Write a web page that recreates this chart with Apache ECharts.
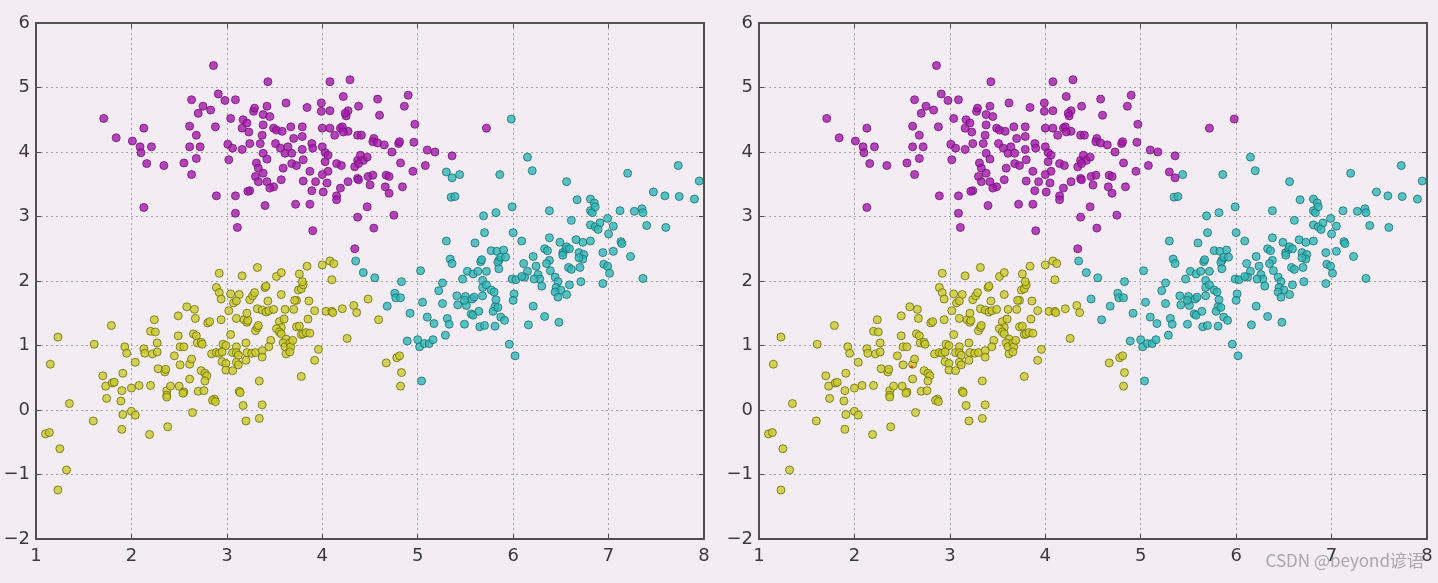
<!DOCTYPE html>
<html><head><meta charset="utf-8">
<script src="https://cdn.jsdelivr.net/npm/echarts@6/dist/echarts.min.js"></script>
<style>html,body{margin:0;padding:0;background:#f3ecf3;}#c{width:1438px;height:583px;}</style>
</head><body><div id="c"></div>
<script>
// ---- data ----
const xRange = [1, 8];
const yRange = [-2, 6];
const watermark = 'CSDN @beyond谚语';

// points that share the same colour in both panels
const magentaPts = [
[2.86,5.34],[1.71,4.52],[1.84,4.22],[2.01,4.17],[2.13,4.37],[2.09,4.08],[2.10,3.99],[2.21,4.08],[2.16,3.82],[2.34,3.79],
[2.55,3.83],[2.63,3.65],[2.68,3.90],[2.61,4.08],[2.72,4.08],[2.68,4.26],[2.61,4.40],[2.70,4.60],[2.75,4.71],[2.63,4.81],
[2.83,4.65],[2.88,4.39],[2.91,4.90],[2.98,4.80],[3.09,4.81],[3.01,4.12],[3.02,3.88],[2.89,3.32],[3.09,3.32],[3.06,4.06],
[3.16,4.04],[3.04,4.52],[3.17,4.50],[3.21,4.45],[3.16,4.37],[3.23,4.31],[3.24,4.13],[3.28,4.63],[3.29,4.68],[3.38,4.58],
[3.42,4.71],[3.43,5.09],[3.45,4.55],[3.38,4.42],[3.37,4.26],[3.35,4.13],[3.38,3.98],[3.42,3.89],[3.31,3.83],[3.33,3.75],
[3.38,3.67],[3.30,3.62],[3.33,3.54],[3.42,3.54],[3.49,3.46],[3.45,3.44],[3.24,3.40],[3.22,3.39],[3.49,4.37],[3.52,4.34],
[3.58,4.32],[3.62,4.76],[3.67,4.39],[3.70,4.21],[3.51,4.13],[3.56,4.06],[3.61,3.98],[3.64,4.08],[3.68,3.98],[3.68,3.82],
[3.59,3.75],[3.57,3.57],[3.73,3.79],[3.79,4.39],[3.79,4.24],[3.84,4.69],[3.89,4.13],[3.90,4.06],[3.79,4.04],[3.80,3.88],
[3.87,3.70],[3.80,3.55],[3.93,3.54],[3.89,3.40],[3.99,4.76],[3.99,4.63],[4.08,4.64],[4.08,5.09],[4.29,5.12],[4.22,4.86],
[4.27,4.64],[4.25,4.56],[4.38,4.71],[4.00,4.37],[4.08,4.37],[4.13,4.26],[4.19,4.37],[4.27,4.32],[4.00,4.08],[4.03,3.99],
[4.03,3.85],[4.06,3.95],[4.15,3.82],[4.06,3.70],[4.00,3.65],[4.05,3.52],[4.01,3.38],[4.15,3.32],[4.19,3.44],[4.27,3.54],
[4.34,3.77],[4.37,3.87],[4.37,3.59],[4.37,4.26],
[4.58,4.82],[4.90,4.88],[4.86,4.71],[4.60,4.57],[4.97,4.43],[4.24,4.60],[4.21,4.39],[4.22,4.31],[4.41,4.26],[4.54,4.21],
[4.53,4.16],[4.58,4.14],[4.65,4.11],[4.80,4.13],[4.81,4.16],[4.96,4.15],[4.73,4.00],[5.10,4.03],[5.18,4.00],[5.36,3.94],
[5.72,4.37],[4.40,3.95],[4.43,3.87],[4.38,3.82],[4.47,3.92],[4.20,3.79],[4.82,3.83],[5.08,3.79],[4.95,3.70],[4.38,3.57],
[4.48,3.62],[4.53,3.64],[4.67,3.64],[4.70,3.62],[4.50,3.49],[4.66,3.46],[4.84,3.46],[4.70,3.36],
[2.13,3.14],[3.09,3.05],[3.11,2.83],[3.40,3.17],[3.72,3.19],[3.87,3.19],[3.90,2.78],[4.15,3.26],[4.37,2.99],[4.34,2.50],
[4.47,3.15],[4.75,3.02],[4.54,2.82]
];

const cyanPts = [
[6.15,3.92],[6.20,3.71],[5.86,3.65],[5.44,3.65],[6.56,3.54],[7.20,3.67],[7.73,3.79],[7.95,3.55],[7.47,3.38],[7.59,3.32],
[7.74,3.31],[7.90,3.27],[5.35,3.30],[5.39,3.31],[6.67,3.26],[6.81,3.27],
[4.35,2.31],[4.43,2.13],[4.55,2.05],[4.83,1.99],[4.76,1.81],[4.77,1.74],[4.82,1.74],[4.68,1.61],[4.92,1.50],[5.03,2.16],
[5.05,1.67],[5.10,1.44],[5.17,1.34],[4.89,1.07],[5.00,1.09],[5.02,0.98],[5.07,1.03],[5.12,1.03],[5.16,1.09],[5.04,0.45],
[5.22,1.85],[5.26,1.97],[5.26,1.65],[5.31,1.42],[5.33,1.33],[5.29,1.16],[5.30,2.62],[5.34,2.34],[5.36,2.27],[5.52,2.15],
[5.47,2.03],[5.41,1.77],[5.50,1.76],[5.42,1.63],[5.51,1.62],[5.49,1.70],[5.49,1.33],[5.60,2.59],[5.69,3.01],[5.70,2.75],
[5.82,3.06],[5.58,2.11],[5.63,2.15],[5.68,2.01],[5.72,2.15],[5.66,2.30],[5.67,2.33],[5.57,1.72],[5.59,1.75],[5.68,1.77],
[5.68,1.90],[5.72,1.94],[5.56,1.49],[5.58,1.47],[5.64,1.53],[5.65,1.29],[5.70,1.31],[5.77,2.47],[5.83,2.46],[5.85,2.32],
[5.84,2.29],[5.87,2.37],[5.90,2.48],[5.92,2.37],[5.77,1.86],[5.80,1.83],[5.82,1.71],[5.81,1.60],[5.79,1.53],[5.84,1.59],
[5.81,1.30],[5.87,1.44],[5.91,1.39],[5.85,2.19],[5.99,3.15],[6.00,2.75],[5.99,2.03],[6.03,2.02],[6.01,1.80],[6.00,1.70],
[5.96,1.02],[6.02,0.84],[6.09,2.62],[6.11,2.27],[6.15,2.15],[6.12,2.06],[6.09,2.07],[6.21,1.61],[6.16,1.32],[6.21,2.38],
[6.24,2.23],[6.26,2.10],[6.28,2.03],[6.30,1.92],[6.22,2.03],[6.33,2.50],[6.36,2.47],[6.38,2.32],[6.35,2.27],[6.39,2.16],
[6.33,1.45],[6.38,2.67],[6.38,3.09],[6.44,2.06],[6.47,1.99],[6.45,1.90],[6.50,1.86],[6.44,1.83],[6.56,1.79],[6.47,1.75],
[6.48,1.36],[6.49,2.60],[6.52,2.44],[6.55,2.49],[6.56,2.53],[6.59,2.50],[6.52,2.40],[6.58,2.21],[6.61,2.18],[6.59,1.94],
[6.66,2.64],[6.73,2.60],[6.81,2.62],[6.69,2.44],[6.74,2.41],[6.73,2.34],[6.69,2.36],[6.70,2.21],[6.71,1.99],[6.61,2.94],
[6.85,3.21],[6.81,3.09],[6.83,3.06],[6.86,3.15],[6.81,2.87],[6.86,2.84],[6.91,2.90],[6.89,2.80],[6.99,2.97],[7.05,2.85],
[7.00,2.73],[6.94,2.44],[6.95,2.26],[6.99,2.23],[7.01,2.12],[6.94,1.96],[7.05,2.46],[7.13,2.61],[7.14,2.58],[7.23,2.38],
[7.12,3.09],[7.27,3.08],[7.35,3.12],[7.36,3.06],[7.40,2.86],[7.60,2.83],[7.36,2.04]
];

const yellowPts = [
[1.23,1.13],[1.15,0.71],[1.79,1.31],[1.61,1.02],[1.93,0.98],[1.95,0.88],[2.04,0.74],[1.70,0.53],[1.73,0.37],[1.80,0.42],
[1.82,0.43],[1.91,0.57],[1.90,0.30],[2.00,0.34],[2.08,0.38],[2.20,0.38],[2.13,0.95],[2.14,0.88],[2.22,0.87],[2.24,1.40],
[2.20,1.22],[2.25,1.21],[2.27,1.04],[2.27,0.90],[2.28,0.64],[2.35,0.59],[2.36,0.63],[2.37,0.30],[2.37,0.23],[2.41,0.37],
[2.45,0.84],[2.49,1.15],[2.49,1.46],[2.51,0.98],[2.55,0.98],[2.51,0.70],[2.50,0.37],[2.55,0.28],[2.58,1.60],[2.66,1.56],
[2.67,1.42],[2.65,1.18],[2.68,1.15],[2.61,0.71],[2.63,0.79],[2.61,0.48],[2.70,0.29],[2.76,0.30],[2.69,1.04],[2.73,1.05],
[2.74,1.02],[2.73,0.61],[2.77,0.57],[2.79,0.53],[2.77,0.45],[2.80,1.35],[2.82,1.37],[2.84,0.87],[2.87,0.17],[2.89,1.90],
[2.92,2.12],[2.92,1.82],[2.94,1.72],[2.94,1.40],[2.89,0.89],[2.92,0.88],[2.95,0.90],[2.96,1.02],[2.99,1.00],[2.95,0.75],
[2.99,0.72],[2.99,0.62],[3.02,1.54],[3.04,1.17],[3.04,1.80],[3.07,1.66],[3.13,1.79],[3.10,1.69],[3.06,0.89],[3.10,0.98],
[3.10,0.89],[3.12,0.85],[3.10,0.74],[3.12,0.70],[3.06,0.61],[3.10,1.42],[3.18,1.40],[3.16,2.08],[3.13,0.29],[3.20,1.04],
[3.21,0.89],[3.21,1.36],[3.22,1.39],[3.20,0.77],[3.24,1.71],[3.27,1.77],[3.29,1.82],[3.21,1.50],[3.30,1.23],[3.32,1.28],
[3.33,1.31],[3.26,0.88],[3.30,0.89],[3.37,0.92],[3.37,0.82],[3.34,0.45],[3.32,2.21],[3.40,1.90],[3.41,1.92],[3.32,1.57],
[3.37,1.55],[3.41,1.52],[3.44,1.54],[3.43,1.69],[3.46,1.08],[3.44,0.98],[3.49,1.56],[3.52,2.07],[3.57,2.13],[3.57,1.79],
[3.55,1.37],[3.57,1.28],[3.60,1.41],[3.52,1.26],[3.55,1.21],[3.57,1.18],[3.62,1.10],[3.59,1.04],[3.61,0.98],[3.62,0.87],
[3.66,1.04],[3.67,0.98],[3.66,0.90],[3.69,1.08],[3.61,1.56],[3.70,1.56],[3.73,1.70],[3.71,1.70],[3.75,1.86],[3.78,1.88],
[3.80,1.94],[3.79,1.99],[3.76,2.11],[3.86,1.69],[3.84,2.23],[3.73,1.29],[3.76,1.30],[3.78,1.17],[3.80,1.18],[3.83,1.20],
[3.87,1.19],[3.85,1.41],[3.92,1.54],[3.96,0.94],[3.92,0.77],[3.78,0.52],[4.00,2.25],[4.04,1.53],[4.08,2.31],[4.12,2.27],
[4.10,2.02],[4.10,1.53],[4.11,1.51],[4.21,1.57],[4.26,1.11],[4.33,1.62],[4.36,1.51],
[4.67,0.73],[4.78,0.81],[4.81,0.84],[4.83,0.58],[4.82,0.37],
[1.74,0.18],[1.89,0.14],[1.91,-0.07],[1.90,-0.30],[2.00,-0.02],[2.04,-0.08],[2.19,-0.38],[2.37,0.20],[2.38,-0.26],[2.54,0.26],
[2.64,-0.04],[2.85,0.15],[2.88,0.13],[3.14,0.27],[3.17,0.07],[3.20,-0.17],[3.37,0.08],[3.34,-0.13],[1.35,0.10],[1.60,-0.17],
[1.10,-0.37],[1.14,-0.35],[1.25,-0.60],[1.32,-0.93],[1.23,-1.24]
];

// points whose colour differs between the two panels
const cyanLeftMagentaRight = [[5.98,4.51],[5.30,3.69],[5.36,3.60]];
const yellowLeftCyanRight = [[4.48,1.72],[4.59,1.40]];
const redDotRight = [[2.60,0.67]];

// ---- chart ----
const C = {
  magenta: {color:'#a31aa9', borderColor:'#76127c'},
  cyan: {color:'#30b6b6', borderColor:'#1a7070'},
  yellow: {color:'#c9cb2a', borderColor:'#6d6d08'}
};
const grids = [
  {left:36, top:23, width:668, height:516},
  {left:759, top:23, width:668, height:516}
];
const fmt = v => v < 0 ? '\u2212' + Math.abs(v) : String(v);
const lineC = '#505050';
const xAxes = [], yAxes = [];
grids.forEach((g, gi) => {
  ['bottom','top'].forEach((pos, k) => xAxes.push({
    type:'value', gridIndex:gi, position:pos, min:xRange[0], max:xRange[1], interval:1,
    axisLine:{show:true, onZero:false, lineStyle:{color:lineC, width:2}},
    axisTick:{show:true, inside:true, length:5, lineStyle:{color:lineC, width:1}},
    axisLabel:{show:k===0, fontSize:18, color:'#3a3a3a', margin:8, fontFamily:'DejaVu Sans', formatter:fmt},
    splitLine:{show:k===0, lineStyle:{type:[2,3], color:'#a8a8a8', width:1}}
  }));
  ['left','right'].forEach((pos, k) => yAxes.push({
    type:'value', gridIndex:gi, position:pos, min:yRange[0], max:yRange[1], interval:1,
    axisLine:{show:true, onZero:false, lineStyle:{color:lineC, width:2}},
    axisTick:{show:true, inside:true, length:5, lineStyle:{color:lineC, width:1}},
    axisLabel:{show:k===0, fontSize:18, color:'#3a3a3a', margin:6, fontFamily:'DejaVu Sans', formatter:fmt},
    splitLine:{show:k===0, lineStyle:{type:[2,3], color:'#a8a8a8', width:1}}
  }));
});
function sc(data, style, gi, size) {
  return {type:'scatter', xAxisIndex:gi*2, yAxisIndex:gi*2, data:data, symbolSize:size||8,
    itemStyle:Object.assign({borderWidth:1}, style), emphasis:{disabled:true}, silent:true};
}
const series = [
  sc(cyanPts.concat(cyanLeftMagentaRight), C.cyan, 0),
  sc(yellowPts.concat(yellowLeftCyanRight), C.yellow, 0),
  sc(magentaPts, C.magenta, 0),
  sc(cyanPts.concat(yellowLeftCyanRight), C.cyan, 1),
  sc(yellowPts, C.yellow, 1),
  sc(magentaPts.concat(cyanLeftMagentaRight), C.magenta, 1),
  sc(redDotRight, {color:'#e03020', borderColor:'#e03020', borderWidth:0}, 1, 3)
];
const chart = echarts.init(document.getElementById('c'), null, {renderer:'canvas'});
chart.setOption({
  backgroundColor:'#f3ecf3', animation:false,
  grid:grids, xAxis:xAxes, yAxis:yAxes, series:series,
  graphic:[{type:'text', right:14, top:552, style:{text:watermark, fontSize:17,
    fontFamily:'Noto Sans CJK SC', fill:'#aaa6aa'}}]
});
</script></body></html>
